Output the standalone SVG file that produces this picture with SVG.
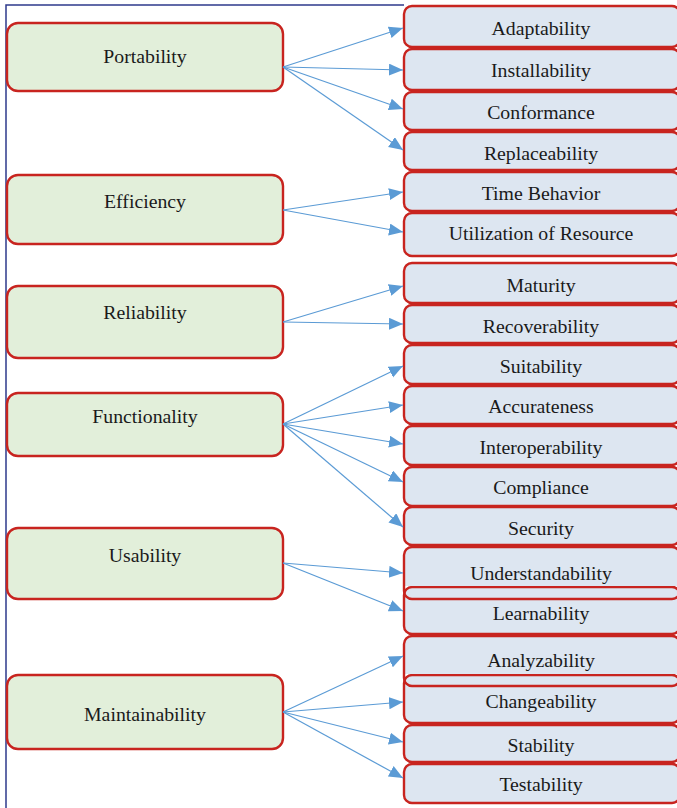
<svg xmlns="http://www.w3.org/2000/svg" width="677" height="808" viewBox="0 0 677 808">
<style>
.lbox{fill:#e2efda;stroke:#c8241f;stroke-width:2.4}
.rbox{fill:#dde6f1;stroke:#c8241f;stroke-width:2.4}
.rfill{fill:#dde6f1;stroke:none}
.rline{fill:none;stroke:#c8241f;stroke-width:2.4}
text{font-family:"Liberation Serif","Times New Roman",serif;font-size:19.8px;fill:#1a1a1a;text-anchor:middle}
.conn line{stroke:#5b9bd5;stroke-width:1.2;marker-end:url(#arr)}
</style>
<defs>
<marker id="arr" markerUnits="userSpaceOnUse" markerWidth="15" markerHeight="13" refX="14" refY="6" orient="auto">
<path d="M0,0 L14,6 L0,12 Z" fill="#5b9bd5"/>
</marker>
</defs>
<rect width="677" height="808" fill="#ffffff"/>
<path d="M6,808 V5 H404" fill="none" stroke="#2e3a8c" stroke-width="1.5"/>

<g id="portability"><rect class="lbox" x="7" y="23" width="276" height="68" rx="11"/><text x="145" y="63">Portability</text></g>
<g id="efficiency"><rect class="lbox" x="7" y="175" width="276" height="69" rx="11"/><text x="145" y="208">Efficiency</text></g>
<g id="reliability"><rect class="lbox" x="7" y="286" width="276" height="72" rx="11"/><text x="145" y="319">Reliability</text></g>
<g id="functionality"><rect class="lbox" x="7" y="393" width="276" height="63" rx="11"/><text x="145" y="423">Functionality</text></g>
<g id="usability"><rect class="lbox" x="7" y="528" width="276" height="71" rx="11"/><text x="145" y="562">Usability</text></g>
<g id="maintainability"><rect class="lbox" x="7" y="675" width="276" height="74" rx="11"/><text x="145" y="721">Maintainability</text></g>

<g id="adaptability"><rect class="rbox" x="404" y="6" width="276" height="41" rx="8"/><text x="541" y="35">Adaptability</text></g>
<g id="installability"><rect class="rbox" x="404" y="49" width="276" height="41" rx="8"/><text x="541" y="77">Installability</text></g>
<g id="conformance"><rect class="rbox" x="404" y="92" width="276" height="38" rx="8"/><text x="541" y="119">Conformance</text></g>
<g id="replaceability"><rect class="rbox" x="404" y="132" width="276" height="38" rx="8"/><text x="541" y="160">Replaceability</text></g>
<g id="time-behavior"><rect class="rbox" x="404" y="172" width="276" height="39" rx="8"/><text x="541" y="200">Time Behavior</text></g>
<g id="utilization"><rect class="rbox" x="404" y="213" width="276" height="43" rx="8"/><text x="541" y="240">Utilization of Resource</text></g>
<g id="maturity"><rect class="rbox" x="404" y="263" width="276" height="40" rx="8"/><text x="541" y="292">Maturity</text></g>
<g id="recoverability"><rect class="rbox" x="404" y="305" width="276" height="38" rx="8"/><text x="541" y="333">Recoverability</text></g>
<g id="suitability"><rect class="rbox" x="404" y="345" width="276" height="39" rx="8"/><text x="541" y="373">Suitability</text></g>
<g id="accurateness"><rect class="rbox" x="404" y="386" width="276" height="38" rx="8"/><text x="541" y="413">Accurateness</text></g>
<g id="interoperability"><rect class="rbox" x="404" y="426" width="276" height="39" rx="8"/><text x="541" y="454">Interoperability</text></g>
<g id="compliance"><rect class="rbox" x="404" y="467" width="276" height="39" rx="8"/><text x="541" y="494">Compliance</text></g>
<g id="security"><rect class="rbox" x="404" y="507" width="276" height="38" rx="8"/><text x="541" y="535">Security</text></g>
<g id="learnability"><rect class="rbox" x="404" y="587" width="276" height="47" rx="8"/><text x="541" y="620">Learnability</text></g>
<g id="understandability"><path class="rfill" d="M404,586 V555 Q404,547 412,547 H672 Q680,547 680,555 V586 Z"/><rect class="rline" x="404" y="547" width="276" height="52" rx="8"/><text x="541" y="580">Understandability</text></g>
<g id="changeability"><rect class="rbox" x="404" y="675" width="276" height="48" rx="8"/><text x="541" y="708">Changeability</text></g>
<g id="analyzability"><path class="rfill" d="M404,674 V644 Q404,636 412,636 H672 Q680,636 680,644 V674 Z"/><rect class="rline" x="404" y="636" width="276" height="50" rx="8"/><text x="541" y="667">Analyzability</text></g>
<g id="stability"><rect class="rbox" x="404" y="725" width="276" height="37" rx="8"/><text x="541" y="752">Stability</text></g>
<g id="testability"><rect class="rbox" x="404" y="764" width="276" height="39" rx="8"/><text x="541" y="791">Testability</text></g>

<g id="connectors" class="conn">
<line x1="283" y1="67" x2="403" y2="28"/>
<line x1="283" y1="67" x2="403" y2="70"/>
<line x1="283" y1="67" x2="403" y2="109"/>
<line x1="283" y1="67" x2="403" y2="150"/>
<line x1="283" y1="210" x2="403" y2="192"/>
<line x1="283" y1="210" x2="403" y2="232"/>
<line x1="283" y1="322" x2="403" y2="286"/>
<line x1="283" y1="322" x2="403" y2="324"/>
<line x1="283" y1="424" x2="403" y2="366"/>
<line x1="283" y1="424" x2="403" y2="405"/>
<line x1="283" y1="424" x2="403" y2="444"/>
<line x1="283" y1="424" x2="403" y2="482"/>
<line x1="283" y1="424" x2="403" y2="527"/>
<line x1="283" y1="563" x2="403" y2="573"/>
<line x1="283" y1="563" x2="403" y2="611"/>
<line x1="283" y1="712" x2="403" y2="656"/>
<line x1="283" y1="712" x2="403" y2="702"/>
<line x1="283" y1="712" x2="403" y2="742"/>
<line x1="283" y1="712" x2="403" y2="778"/>
</g>
</svg>
